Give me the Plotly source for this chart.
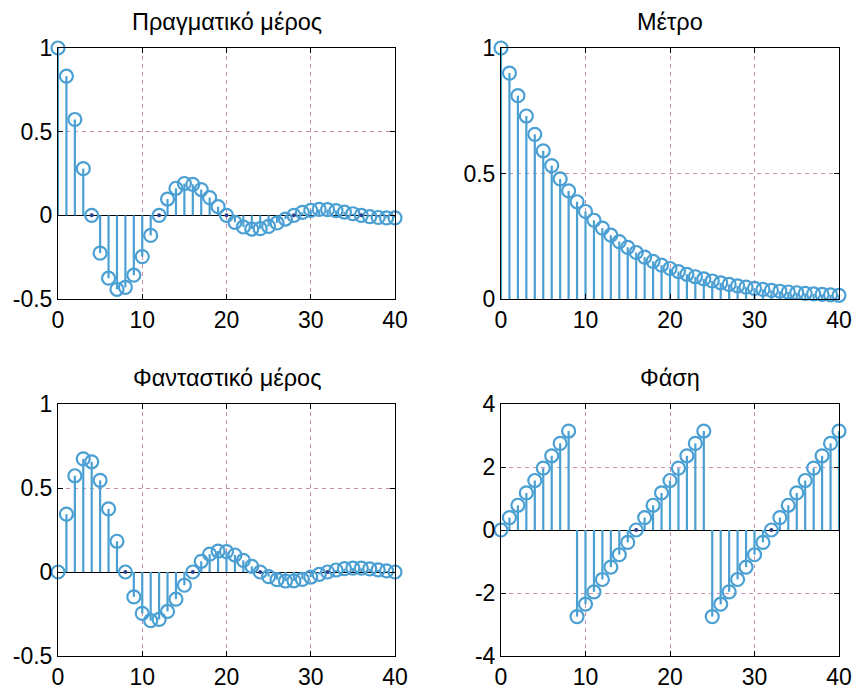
import plotly.graph_objects as go

n = list(range(41))

real_part = [1.0, 0.8315, 0.5728, 0.2790, 0.0, -0.2260, -0.3758, -0.4419, -0.4305, -0.3579,
             -0.2466, -0.1201, 0.0, 0.0973, 0.1618, 0.1902, 0.1853, 0.1541, 0.1061, 0.0517,
             0.0, -0.0419, -0.0696, -0.0819, -0.0798, -0.0663, -0.0457, -0.0222, 0.0, 0.0180,
             0.0300, 0.0353, 0.0343, 0.0285, 0.0197, 0.0096, 0.0, -0.0078, -0.0129, -0.0152,
             -0.0148]

magnitude = [1.0, 0.9, 0.81, 0.729, 0.6561, 0.5905, 0.5314, 0.4783, 0.4305, 0.3874,
             0.3487, 0.3138, 0.2824, 0.2542, 0.2288, 0.2059, 0.1853, 0.1668, 0.1501, 0.1351,
             0.1216, 0.1094, 0.0985, 0.0886, 0.0798, 0.0718, 0.0646, 0.0581, 0.0523, 0.0471,
             0.0424, 0.0382, 0.0343, 0.0309, 0.0278, 0.0250, 0.0225, 0.0203, 0.0182, 0.0164,
             0.0148]

imag_part = [0.0, 0.3444, 0.5728, 0.6735, 0.6561, 0.5456, 0.3758, 0.1830, 0.0, -0.1483,
             -0.2466, -0.2899, -0.2824, -0.2349, -0.1618, -0.0788, 0.0, 0.0638, 0.1061, 0.1248,
             0.1216, 0.1011, 0.0696, 0.0339, 0.0, -0.0275, -0.0457, -0.0537, -0.0523, -0.0435,
             -0.0300, -0.0146, 0.0, 0.0118, 0.0197, 0.0231, 0.0225, 0.0188, 0.0129, 0.0063,
             0.0]

phase = [0.0, 0.393, 0.785, 1.178, 1.571, 1.963, 2.356, 2.749, 3.142, -2.749,
         -2.356, -1.963, -1.571, -1.178, -0.785, -0.393, 0.0, 0.393, 0.785, 1.178,
         1.571, 1.963, 2.356, 2.749, 3.142, -2.749, -2.356, -1.963, -1.571, -1.178,
         -0.785, -0.393, 0.0, 0.393, 0.785, 1.178, 1.571, 1.963, 2.356, 2.749,
         3.142]

titles = ["Πραγματικό μέρος", "Μέτρο", "Φανταστικό μέρος", "Φάση"]
series = [real_part, magnitude, imag_part, phase]
y_ranges = [[-0.5, 1], [0, 1], [-0.5, 1], [-4, 4]]
y_ticks = [[-0.5, 0, 0.5, 1], [0, 0.5, 1], [-0.5, 0, 0.5, 1], [-4, -2, 0, 2, 4]]
y_ticktext = [["-0.5", "0", "0.5", "1"], ["0", "0.5", "1"], ["-0.5", "0", "0.5", "1"],
              ["-4", "-2", "0", "2", "4"]]
dot_idx = [[4, 12, 20, 28, 36], [], [8, 16, 24, 32], [16, 32]]
x_ticks = [0, 10, 20, 30, 40]

W, H = 857, 689
# panel pixel boxes: left, right, top, bottom
boxes = [(58, 395, 48, 299), (501, 839, 48, 299), (58, 395, 404, 656), (501, 839, 404, 656)]

COLOR = "#4a9fd3"
GRID = "#c98fab"
FONT = "Liberation Sans, Arial, sans-serif"

fig = go.Figure()
for i in range(4):
    ax = "" if i == 0 else str(i + 1)
    xr, yr = "x" + ax, "y" + ax
    vals = series[i]
    sx, sy = [], []
    for k, v in zip(n, vals):
        sx += [k, k, None]
        sy += [0, v, None]
    fig.add_trace(go.Scatter(x=sx, y=sy, mode="lines", xaxis=xr, yaxis=yr,
                             line=dict(color=COLOR, width=2.2), hoverinfo="skip",
                             showlegend=False))
    fig.add_trace(go.Scatter(x=n, y=vals, mode="markers", xaxis=xr, yaxis=yr,
                             marker=dict(symbol="circle-open", size=13, color=COLOR,
                                         line=dict(width=2.2, color=COLOR)),
                             cliponaxis=False, showlegend=False))
    if dot_idx[i]:
        fig.add_trace(go.Scatter(x=dot_idx[i], y=[vals[k] for k in dot_idx[i]], mode="markers",
                                 xaxis=xr, yaxis=yr,
                                 marker=dict(symbol="circle", size=4, color="#2a3f8a"),
                                 cliponaxis=False, showlegend=False))
    l, r, t, b = boxes[i]
    common = dict(showline=True, linecolor="black", linewidth=1, mirror="allticks",
                  ticks="inside", ticklen=5, tickcolor="black", automargin=False,
                  showgrid=True, gridcolor=GRID, griddash="4px,4px", gridwidth=1.2,
                  tickfont=dict(family=FONT, size=23, color="black"))
    fig.update_layout(**{
        "xaxis" + ax: dict(domain=[l / W, r / W], range=[0, 40], tickvals=x_ticks,
                           zeroline=False, anchor=yr, **common),
        "yaxis" + ax: dict(domain=[1 - b / H, 1 - t / H], range=y_ranges[i],
                           tickvals=y_ticks[i], ticktext=y_ticktext[i],
                           zeroline=True, zerolinecolor="black", zerolinewidth=1,
                           anchor=xr, **common),
    })
    fig.add_annotation(text=titles[i], xref="paper", yref="paper",
                       x=(l + r) / 2 / W, y=1 - (t - 26) / H, showarrow=False,
                       xanchor="center", yanchor="middle",
                       font=dict(family=FONT, size=23.5, color="black"))

fig.update_layout(width=W, height=H, margin=dict(l=0, r=0, t=0, b=0, autoexpand=False),
                  paper_bgcolor="white", plot_bgcolor="white", showlegend=False)

fig.write_html("out.html")
